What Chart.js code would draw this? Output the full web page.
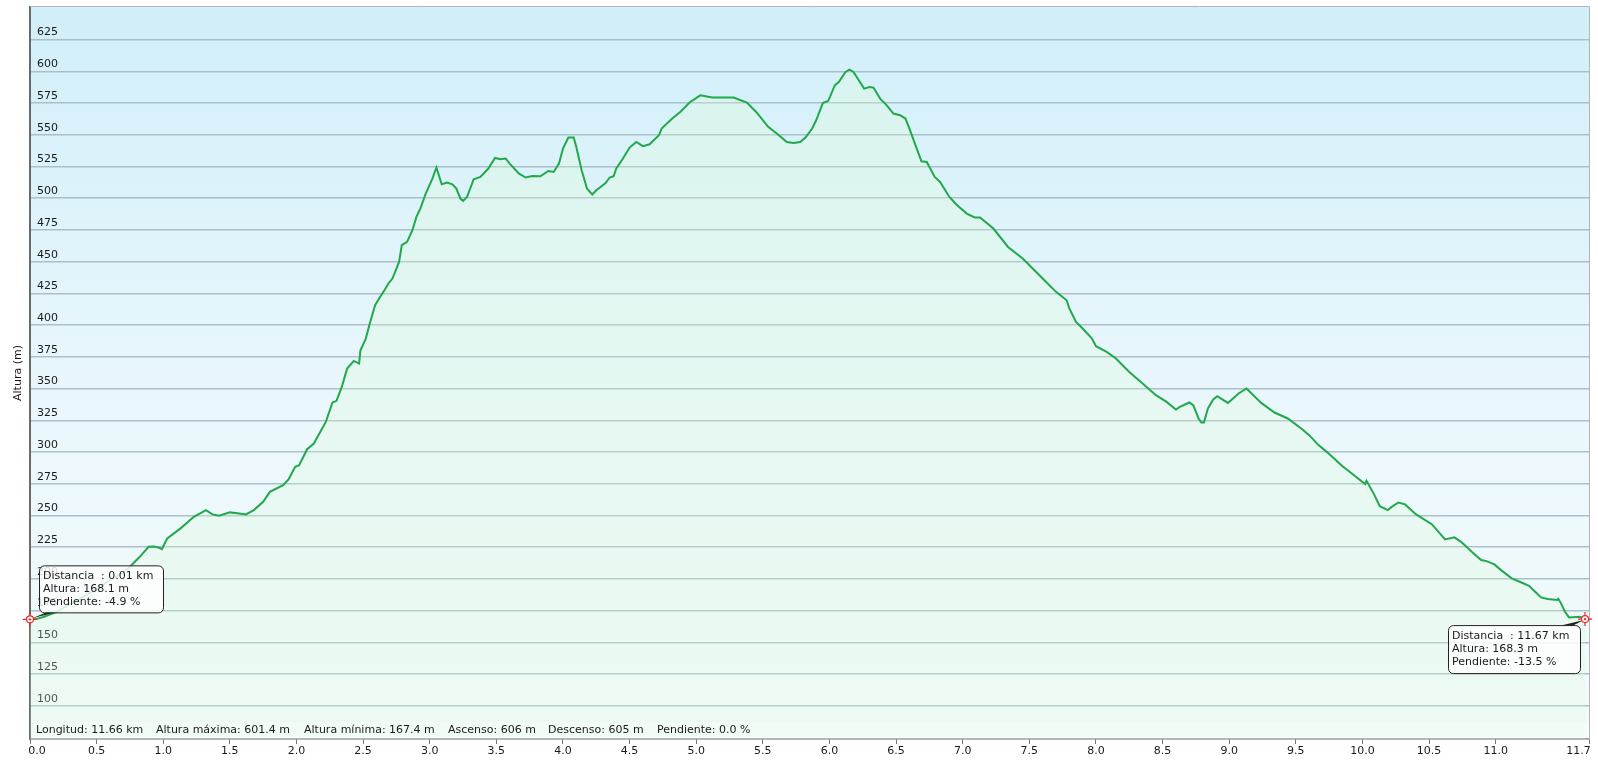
<!DOCTYPE html>
<html>
<head>
<meta charset="utf-8">
<script src="https://cdn.jsdelivr.net/npm/chart.js@4/dist/chart.umd.min.js"></script>
<style>
  html, body { margin: 0; padding: 0; background: #fff; }
</style>
</head>
<body>
<canvas id="ProfileChart" width="1598" height="766"></canvas>
<script>
// distance along the track (km) and altitude (m)
const distKm = [
  0.00, 0.05, 0.10, 0.20, 0.30, 0.40, 0.50, 0.60, 0.70, 0.75, 0.82, 0.89, 0.93, 0.97, 0.99,
  1.03, 1.13, 1.23, 1.32, 1.37, 1.42, 1.50, 1.57, 1.62, 1.68, 1.75, 1.80, 1.90, 1.94, 1.99,
  2.02, 2.08, 2.13, 2.22, 2.27, 2.30, 2.34, 2.38, 2.43, 2.47, 2.48, 2.52, 2.55, 2.59, 2.62,
  2.66, 2.69, 2.72, 2.77, 2.79, 2.83, 2.87, 2.90, 2.93, 2.97, 3.02, 3.05, 3.09, 3.13, 3.17,
  3.20, 3.23, 3.25, 3.28, 3.33, 3.38, 3.44, 3.49, 3.53, 3.57, 3.60, 3.67, 3.72, 3.77, 3.83,
  3.89, 3.93, 3.97, 4.00, 4.04, 4.08, 4.10, 4.14, 4.18, 4.22, 4.25, 4.32, 4.35, 4.38, 4.40,
  4.45, 4.50, 4.55, 4.60, 4.65, 4.72, 4.74, 4.82, 4.88, 4.95, 5.03, 5.12, 5.28, 5.38, 5.45,
  5.54, 5.62, 5.68, 5.73, 5.78, 5.82, 5.87, 5.90, 5.95, 5.99, 6.04, 6.07, 6.12, 6.15, 6.18,
  6.22, 6.26, 6.30, 6.33, 6.38, 6.43, 6.48, 6.53, 6.57, 6.60, 6.65, 6.69, 6.73, 6.79, 6.83,
  6.90, 6.95, 7.03, 7.09, 7.13, 7.23, 7.34, 7.45, 7.60, 7.70, 7.78, 7.80, 7.85, 7.90, 7.97,
  8.00, 8.08, 8.15, 8.25, 8.35, 8.45, 8.53, 8.60, 8.63, 8.70, 8.73, 8.77, 8.79, 8.81, 8.84,
  8.88, 8.91, 8.99, 9.07, 9.13, 9.24, 9.34, 9.44, 9.55, 9.60, 9.67, 9.74, 9.85, 9.92, 10.02,
  10.03, 10.09, 10.13, 10.19, 10.23, 10.27, 10.32, 10.40, 10.52, 10.62, 10.69, 10.74, 10.82, 10.89, 10.93,
  10.99, 11.04, 11.12, 11.18, 11.25, 11.29, 11.34, 11.39, 11.46, 11.47, 11.49, 11.52, 11.55, 11.63, 11.67
];
const altM = [
  168.1, 168.5, 170.0, 174.0, 180.0, 186.0, 192.0, 199.0, 205.0, 209.5, 217.0, 225.3, 225.5, 224.5, 223.5,
  231.9, 239.8, 248.9, 254.2, 250.8, 249.7, 252.4, 251.5, 250.8, 254.2, 260.7, 268.6, 273.9, 278.4, 288.3,
  289.6, 302.2, 306.7, 323.7, 339.0, 340.3, 351.3, 365.8, 371.8, 369.7, 380.2, 389.4, 401.3, 415.7, 421.0,
  427.5, 432.8, 436.7, 449.8, 463.0, 465.6, 474.8, 485.3, 492.0, 503.7, 515.5, 524.2, 511.0, 512.3, 511.0,
  507.6, 499.7, 497.9, 501.0, 515.0, 516.8, 523.4, 531.7, 530.7, 531.3, 527.3, 519.4, 516.3, 517.5, 517.3,
  521.5, 520.7, 527.3, 539.1, 547.8, 547.8, 540.4, 522.0, 507.6, 502.9, 506.3, 512.0, 516.3, 517.3, 523.4,
  531.3, 539.9, 544.3, 541.0, 542.5, 549.6, 554.9, 562.8, 568.0, 575.4, 581.1, 579.3, 579.3, 575.4, 568.0,
  556.2, 549.6, 544.3, 543.5, 544.3, 547.8, 554.9, 561.4, 575.0, 576.6, 589.0, 591.6, 599.5, 601.4, 599.5,
  593.0, 586.4, 587.7, 587.2, 578.5, 573.2, 566.7, 565.4, 562.8, 554.9, 540.4, 529.1, 528.6, 516.8, 512.8,
  501.0, 495.3, 487.9, 484.8, 484.8, 476.1, 461.6, 452.5, 436.7, 426.2, 419.6, 413.1, 402.5, 397.3, 389.4,
  383.4, 378.9, 373.7, 363.1, 354.0, 344.8, 339.5, 333.5, 335.6, 339.0, 336.9, 326.4, 323.2, 323.3, 334.3,
  341.4, 344.0, 338.7, 346.1, 350.1, 338.7, 331.1, 326.4, 317.7, 313.3, 305.4, 299.3, 288.8, 283.1, 274.7,
  277.3, 266.0, 257.3, 254.2, 257.6, 260.2, 258.7, 251.0, 243.1, 231.1, 232.7, 229.2, 221.3, 214.8, 214.0,
  211.4, 206.9, 200.4, 197.7, 194.5, 190.4, 185.4, 184.1, 183.3, 184.3, 180.7, 174.1, 169.6, 170.1, 168.3
];

const xTicks = [0, 0.5, 1, 1.5, 2, 2.5, 3, 3.5, 4, 4.5, 5, 5.5, 6, 6.5, 7, 7.5, 8, 8.5, 9, 9.5, 10, 10.5, 11, 11.7];
const yTicks = [100, 125, 150, 175, 200, 225, 250, 275, 300, 325, 350, 375, 400, 425, 450, 475, 500, 525, 550, 575, 600, 625];

const summaryLabels = ['Longitud: 11.66 km', 'Altura máxima: 601.4 m', 'Altura mínima: 167.4 m', 'Ascenso: 606 m', 'Descenso: 605 m', 'Pendiente: 0.0 %'];
const startInfo = ['Distancia  : 0.01 km', 'Altura: 168.1 m', 'Pendiente: -4.9 %'];
const endInfo = ['Distancia  : 11.67 km', 'Altura: 168.3 m', 'Pendiente: -13.5 %'];

const FONT = '"DejaVu Sans", Verdana, sans-serif';

function drawMarker(ctx, x, y) {
    ctx.save();
    ctx.strokeStyle = "rgb(235, 40, 40)";
    ctx.lineWidth = 1.2;
    ctx.beginPath();
    ctx.moveTo(x - 7, y); ctx.lineTo(x + 7, y);
    ctx.moveTo(x, y - 7); ctx.lineTo(x, y + 7);
    ctx.stroke();
    ctx.fillStyle = "#fff";
    ctx.beginPath();
    ctx.arc(x, y, 3.5, 0, Math.PI * 2);
    ctx.fill();
    ctx.stroke();
    ctx.fillStyle = "rgb(235, 40, 40)";
    ctx.beginPath();
    ctx.arc(x, y, 1.2, 0, Math.PI * 2);
    ctx.fill();
    ctx.restore();
}

function drawInfoBox(ctx, lines, left, top, w, h, tail) {
    ctx.save();
    ctx.strokeStyle = "#222";
    ctx.lineWidth = 1;
    ctx.beginPath();
    ctx.moveTo(tail[0], tail[1]);
    ctx.lineTo(tail[2], tail[3]);
    ctx.lineTo(tail[4], tail[5]);
    ctx.closePath();
    ctx.fillStyle = "#222";
    ctx.fill();
    ctx.beginPath();
    ctx.roundRect(left + 0.5, top + 0.5, w, h, 5);
    ctx.fillStyle = "rgba(255, 255, 255, 0.82)";
    ctx.fill();
    ctx.stroke();
    ctx.fillStyle = "#1a1a1a";
    ctx.font = "11px " + FONT;
    ctx.textBaseline = "middle";
    lines.forEach((t, i) => ctx.fillText(t, left + 4, top + 11 + i * 13));
    ctx.restore();
}

const profileDecor = {
    id: 'profileDecor',
    beforeDraw(chart) {
        const {ctx, chartArea: a} = chart;
        const g = ctx.createLinearGradient(0, a.top, 0, a.bottom);
        g.addColorStop(0, "rgb(209, 239, 249)");
        g.addColorStop(0.55, "rgb(234, 247, 252)");
        g.addColorStop(1, "rgb(243, 251, 250)");
        ctx.save();
        ctx.fillStyle = g;
        ctx.fillRect(a.left, a.top, a.right - a.left, a.bottom - a.top);
        ctx.restore();
    },
    afterDraw(chart) {
        const {ctx, chartArea: a} = chart;
        const xs = chart.scales.x, ys = chart.scales.y;
        ctx.save();
        // bottom band with the track summary
        ctx.fillStyle = "rgba(255, 255, 255, 0.35)";
        ctx.fillRect(a.left + 1, a.bottom - 17, a.right - a.left - 1, 17);
        ctx.fillStyle = "#1a1a1a";
        ctx.font = "11px " + FONT;
        ctx.textBaseline = "middle";
        const sx = [36, 156, 304, 448, 548, 657];
        summaryLabels.forEach((t, i) => ctx.fillText(t, sx[i], a.bottom - 9));
        // frame
        ctx.strokeStyle = "#b4b4b4";
        ctx.lineWidth = 1;
        ctx.beginPath();
        ctx.moveTo(a.left, a.top - 0.5); ctx.lineTo(a.right + 0.5, a.top - 0.5);
        ctx.lineTo(a.right + 0.5, a.bottom);
        ctx.stroke();
        ctx.restore();

        const n = distKm.length - 1;
        const p0 = [xs.getPixelForValue(distKm[0]), ys.getPixelForValue(altM[0])];
        const p1 = [xs.getPixelForValue(distKm[n]), ys.getPixelForValue(altM[n])];
        drawInfoBox(ctx, startInfo, p0[0] + 9, p0[1] - 54, 124, 47,
            [p0[0] + 2, p0[1] - 1, p0[0] + 28, p0[1] - 7.5, p0[0] + 18, p0[1] - 7.5]);
        drawInfoBox(ctx, endInfo, p1[0] - 137, p1[1] + 6, 132, 48,
            [p1[0] - 1, p1[1] + 1, p1[0] - 24, p1[1] + 6.5, p1[0] - 12, p1[1] + 6.5]);
        drawMarker(ctx, p0[0], p0[1]);
        drawMarker(ctx, p1[0], p1[1]);
    }
};

const profileChart = new Chart(document.querySelector('#ProfileChart'), {
    type: 'line',
    data: {
        datasets: [{
            label: 'Altura',
            data: distKm.map((d, i) => ({x: d, y: altM[i]})),
            borderColor: "rgb(32, 168, 76)",
            borderWidth: 2,
            pointRadius: 0,
            tension: 0,
            fill: 'start',
            backgroundColor: (c) => {
                const a = c.chart.chartArea;
                if (!a) return "rgba(225, 252, 210, 0.25)";
                const g = c.chart.ctx.createLinearGradient(0, a.top, 0, a.bottom);
                g.addColorStop(0, "rgba(229, 255, 205, 0.25)");
                g.addColorStop(1, "rgba(215, 247, 218, 0.25)");
                return g;
            }
        }]
    },
    options: {
        responsive: false,
        animation: false,
        devicePixelRatio: 1,
        layout: { padding: { top: 7, right: 9, left: 0, bottom: 0 } },
        plugins: { legend: { display: false }, tooltip: { enabled: false } },
        scales: {
            x: {
                type: 'linear',
                min: 0,
                max: 11.7,
                afterFit: (s) => { s.height = 27; s.paddingLeft = 0; s.paddingRight = 0; },
                afterBuildTicks: (s) => { s.ticks = xTicks.map(v => ({value: v})); },
                grid: { drawOnChartArea: false, tickLength: 5, tickColor: "#777", tickWidth: 1 },
                border: { color: "#6e6e6e", width: 1.5 },
                ticks: {
                    padding: 1,
                    maxRotation: 0,
                    autoSkip: false,
                    color: "#1a1a1a",
                    font: { family: FONT, size: 11 },
                    // first and last labels sit inside the plot edges, as in the original
                    callback: (v) => {
                        if (v === 0) return '\u2007\u20070.0';
                        if (v === 11.7) return '11.7\u2007\u2007\u2007';
                        return Number(v).toFixed(1);
                    }
                }
            },
            y: {
                type: 'linear',
                min: 73.8,
                max: 650.7,
                afterFit: (s) => { s.width = 30; s.paddingTop = 0; s.paddingBottom = 0; },
                afterBuildTicks: (s) => { s.ticks = yTicks.map(v => ({value: v})); },
                grid: { color: "#aabfca", lineWidth: 1.5, drawTicks: false },
                border: { color: "#6a6a6a", width: 2 },
                title: {
                    display: true,
                    text: 'Altura (m)',
                    color: "#1a1a1a",
                    font: { family: FONT, size: 11 },
                    padding: { top: 12, bottom: 0 }
                },
                ticks: {
                    mirror: true,
                    padding: 7,
                    labelOffset: -7,
                    color: "#1a1a1a",
                    font: { family: FONT, size: 11 }
                }
            }
        }
    },
    plugins: [profileDecor]
});
</script>
</body>
</html>
